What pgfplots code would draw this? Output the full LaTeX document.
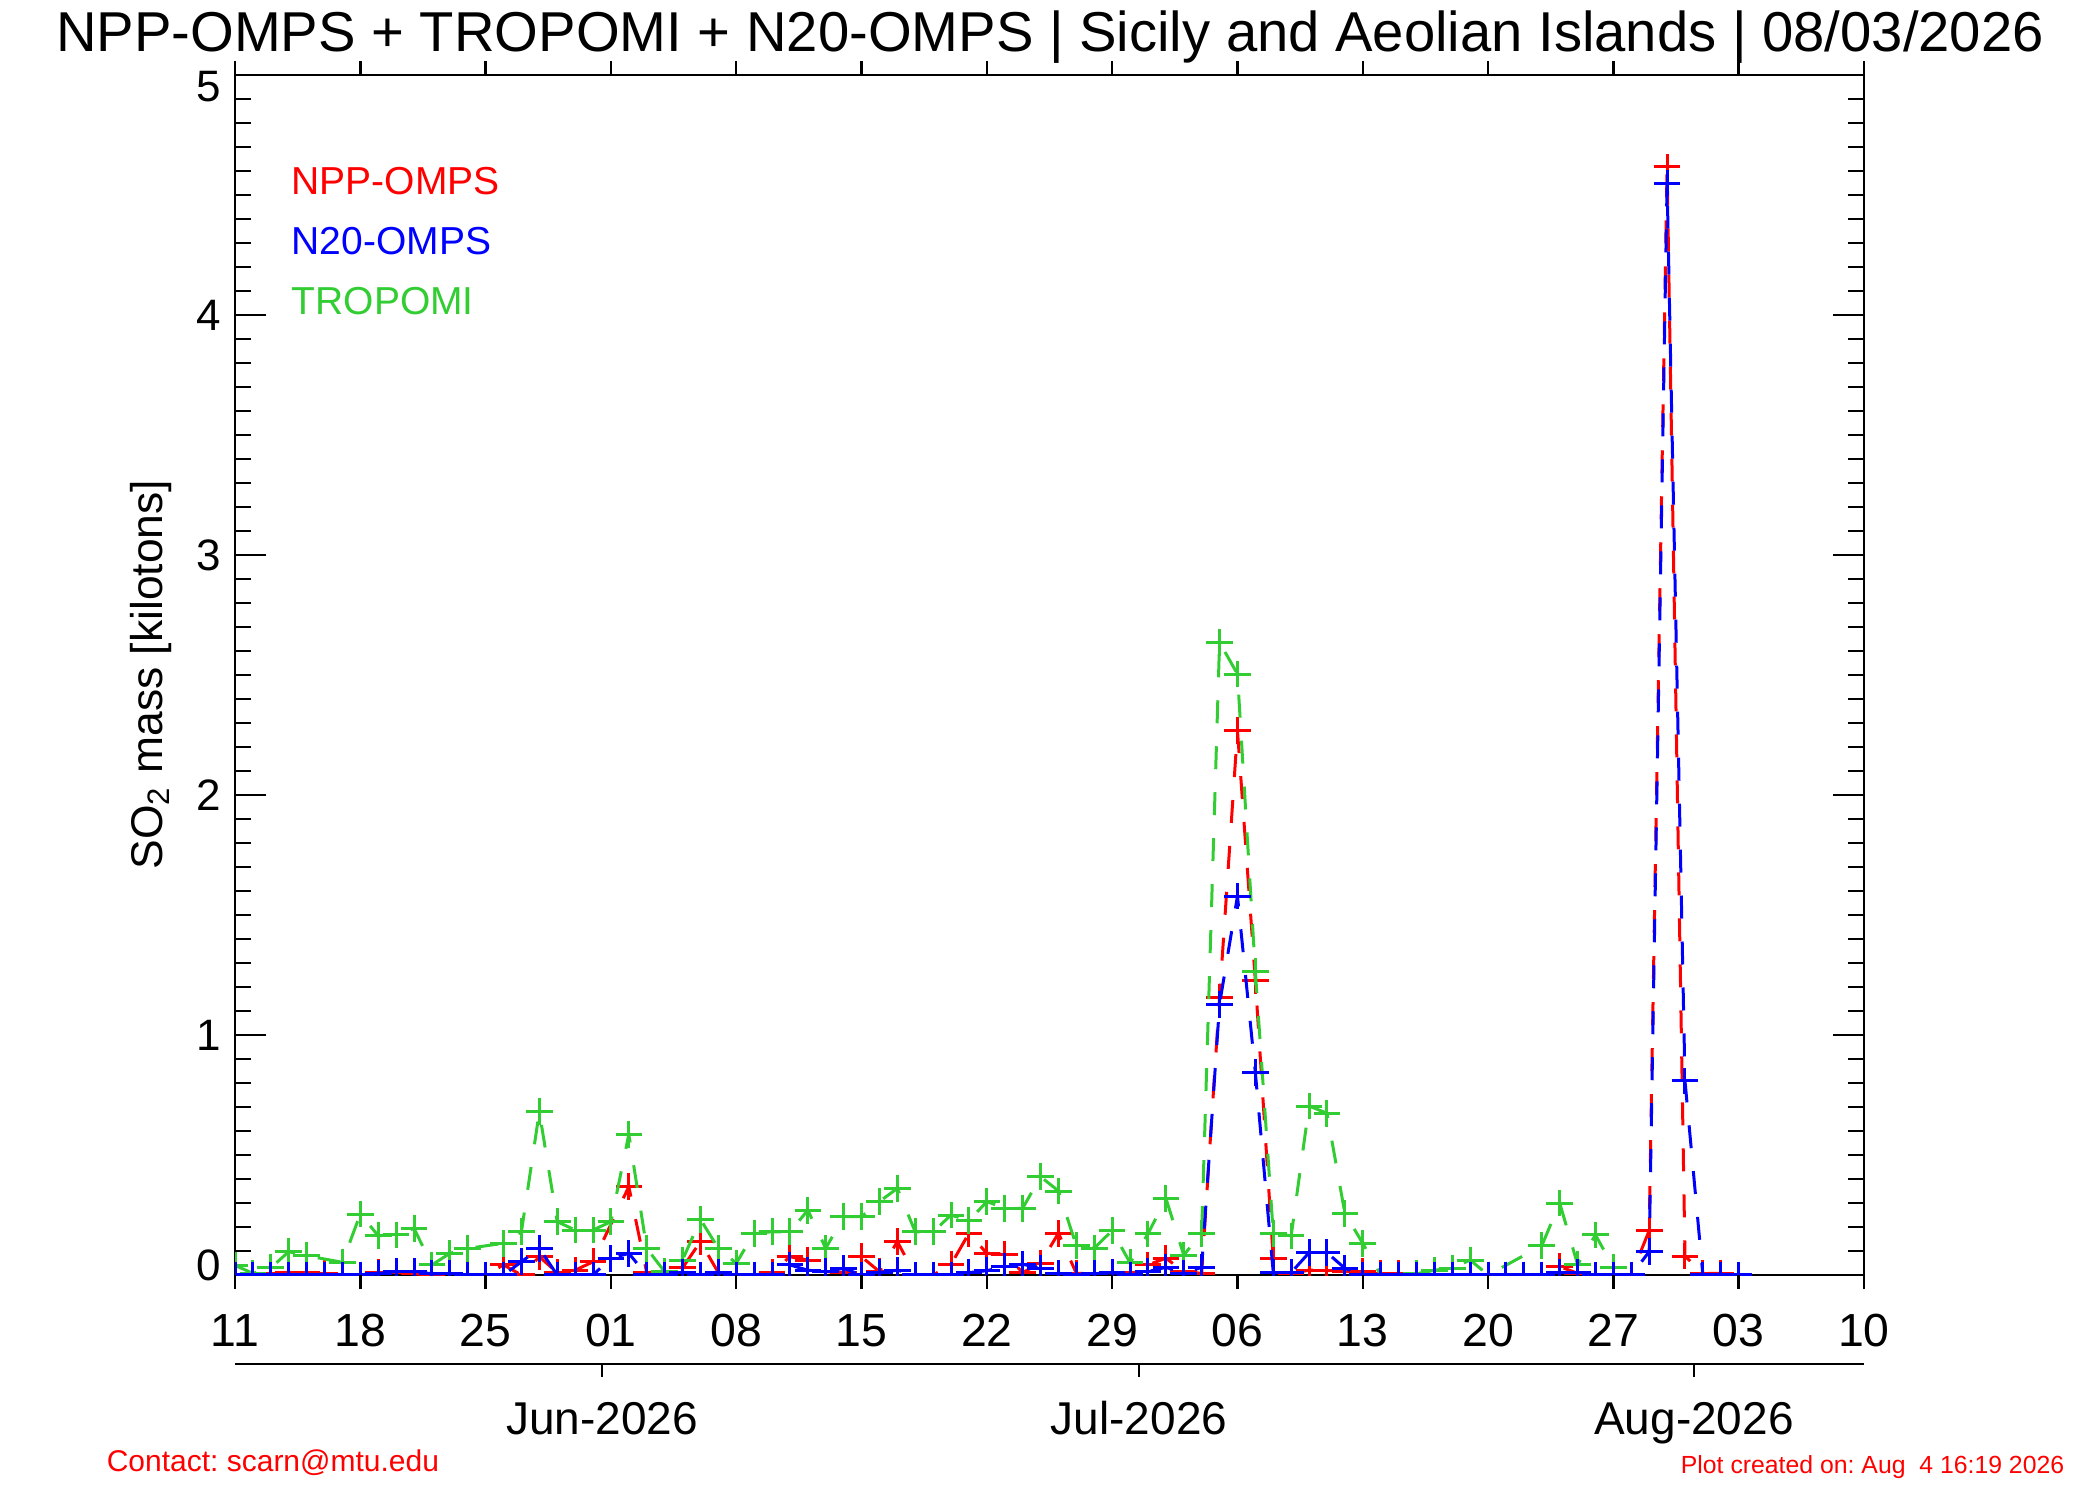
\documentclass[border=0pt]{standalone}
\usepackage{pgfplots}
\usepackage{pgfplotstable}
\pgfplotsset{compat=1.18}
\usepackage{fontspec}
\setmainfont{Liberation Sans}
\frenchspacing
\definecolor{nred}{RGB}{255,0,0}
\definecolor{nblue}{RGB}{0,0,255}
\definecolor{tgreen}{RGB}{50,205,50}

% x = days since 11 May 2026
\pgfplotstableread{
d v
2 0.005
3 0.01
4 0.01
5 0.005
6 0
7 0
8 0.01
9 0.01
10 0.005
11 0
12 0.005
13 0
14 0
15 0.042
16 0
17 0.076
18 0.01
19 0.02
20 0.055
22 0.368
23 0.01
24 0.014
25 0.03
26 0.139
27 0.01
28 0
29 0
30 0.01
31 0.076
32 0.0625
33 0.014
34 0.01
35 0.076
36 0.014
37 0.139
38 0
39 0
40 0.044
41 0.174
42 0.09
43 0.0875
44 0.01
45 0.05
46 0.174
47 0.007
48 0.005
49 0.01
50 0.01
51 0.042
52 0.07
53 0.014
54 0.007
55 1.157
56 2.268
57 1.226
58 0.067
59 0.007
60 0.02
61 0.02
62 0.014
63 0.014
64 0.005
65 0.005
66 0
67 0
68 0
69 0
70 0
73 0
74 0.035
75 0.007
76 0
77 0
78 0
79 0.185
80 4.617
81 0.079
82 0.007
83 0.007
}\npp

\pgfplotstableread{
d v
0 0.04
1 0.007
2 0.03
3 0.097
4 0.08
6 0.053
7 0.254
8 0.164
9 0.167
10 0.194
11 0.042
12 0.09
13 0.111
15 0.132
16 0.18
17 0.68
18 0.222
19 0.1875
20 0.1875
21 0.222
22 0.586
23 0.111
24 0.014
25 0.0625
26 0.232
27 0.111
28 0.049
29 0.174
30 0.18
31 0.18
32 0.27
33 0.111
34 0.243
35 0.243
36 0.306
37 0.361
38 0.18
39 0.18
40 0.25
41 0.226
42 0.306
43 0.278
44 0.278
45 0.41
46 0.35
47 0.122
48 0.112
49 0.185
50 0.051
51 0.171
52 0.32
53 0.083
54 0.174
55 2.636
56 2.504
57 1.264
58 0.174
59 0.163
60 0.704
61 0.674
62 0.257
63 0.132
64 0
65 0
66 0.005
67 0.02
68 0.028
69 0.0625
70 0
73 0.122
74 0.30
75 0.044
76 0.167
77 0.032
}\trop

\pgfplotstableread{
d v
0 0
1 0
2 0
3 0
4 0
5 0
6 0
7 0
8 0.005
9 0.015
10 0.015
11 0.005
12 0.005
13 0
14 0
15 0
16 0.055
17 0.111
18 0
19 0
20 0
21 0.07
22 0.09
23 0
24 0
25 0.01
26 0
27 0.01
28 0
29 0
30 0
31 0.042
32 0.02
33 0.014
34 0.028
35 0
36 0.01
37 0.02
38 0
39 0
40 0
41 0.01
42 0.018
43 0.035
44 0.045
45 0.028
46 0.007
47 0
48 0.005
49 0.01
50 0
51 0.014
52 0.032
53 0.007
54 0.032
55 1.128
56 1.579
57 0.843
58 0.01
59 0.01
60 0.093
61 0.093
62 0.028
63 0
64 0
65 0
66 0
67 0
68 0
69 0
70 0
71 0
72 0
73 0
74 0.01
75 0.01
76 0
77 0
78 0
79 0.097
80 4.55
81 0.809
82 0
83 0
84 0
}\nto

\begin{document}
\begin{tikzpicture}
% main axis: data, box and y ticks
\begin{axis}[
  at={(0pt,0pt)}, anchor=south west,
  scale only axis, width=407.25pt, height=300pt,
  xmin=0, xmax=91, ymin=0, ymax=5,
  xtick=\empty,
  ytick={0,1,2,3,4,5},
  yticklabels={\raisebox{2.5pt}[\height][\depth]{0},1,2,3,4,\raisebox{-3pt}[\height][\depth]{5}},
  minor y tick num=9,
  ytick align=inside, ytick pos=both,
  major tick length=7.75pt, minor tick length=4pt,
  tick style={black, line width=0.6pt},
  axis line style={black, line width=0.6pt},
  yticklabel style={font=\fontsize{11}{13}\selectfont, black},
  clip marker paths=true,
  every axis plot/.append style={line width=0.75pt, dash pattern=on 5.75pt off 5.75pt,
     mark=+, mark size=3.33pt, mark options={solid, line width=0.75pt}},
]
\addplot[nred] table[x=d,y=v]{\npp};
\addplot[tgreen] table[x=d,y=v]{\trop};
\addplot[nblue] table[x=d,y=v]{\nto};
\end{axis}
% date ticks (outside, top and bottom)
\begin{axis}[
  at={(0pt,0pt)}, anchor=south west,
  scale only axis, width=407.25pt, height=300pt,
  xmin=0, xmax=91, ymin=0, ymax=5,
  ytick=\empty,
  axis line style={draw=none},
  xtick={0,7,...,91},
  xticklabels={11,18,25,01,08,15,22,29,06,13,20,27,03,10},
  xtick align=outside, xtick pos=both, xticklabel pos=bottom,
  major tick length=3.5pt,
  tick style={black, line width=0.6pt},
  xticklabel style={font=\fontsize{11.6}{13}\selectfont, anchor=base, yshift=-14.4pt},
]
\end{axis}
% month axis
\begin{axis}[
  at={(0pt,-22.25pt)}, anchor=south west,
  scale only axis, width=407.25pt, height=10pt,
  xmin=0, xmax=91, ymin=0, ymax=1,
  axis x line*=bottom, axis y line=none,
  ytick=\empty,
  axis line style={-, black, line width=0.6pt},
  xtick={20.5,50.5,81.5},
  xticklabels={Jun-2026,Jul-2026,Aug-2026},
  xtick align=outside,
  major tick length=3.25pt,
  tick style={black, line width=0.6pt},
  xticklabel style={font=\fontsize{11.5}{13}\selectfont, anchor=base, yshift=-14.4pt},
]
\end{axis}
% texts
\node[anchor=base, font=\fontsize{14.05}{16}\selectfont] at (203.75pt,305.75pt)
  {NPP-OMPS + TROPOMI + N20-OMPS | Sicily and Aeolian Islands | 08/03/2026};
\node[anchor=base west, inner sep=0pt, text=nred, font=\fontsize{9.75}{11}\selectfont] at (14pt,270pt) {NPP-OMPS};
\node[anchor=base west, inner sep=0pt, text=nblue, font=\fontsize{9.75}{11}\selectfont] at (14pt,255pt) {N20-OMPS};
\node[anchor=base west, inner sep=0pt, text=tgreen, font=\fontsize{9.75}{11}\selectfont] at (14pt,240pt) {TROPOMI};
\node[rotate=90, font=\fontsize{11.1}{13}\selectfont] at (-21pt,150.1pt) {SO\textsubscript{2} mass [kilotons]};
\node[anchor=base west, inner sep=0pt, text=nred, font=\fontsize{7.5}{9}\selectfont] at (-32.25pt,-49pt) {Contact: scarn@mtu.edu};
\node[anchor=base east, inner sep=0pt, text=nred, font=\fontsize{6.2}{8}\selectfont] at (457.5pt,-49.5pt) {Plot created on: Aug~~4 16:19 2026};
\pgfresetboundingbox
\useasboundingbox (-58.75pt,-56.25pt) rectangle (466.25pt,318.75pt);
\end{tikzpicture}
\end{document}
